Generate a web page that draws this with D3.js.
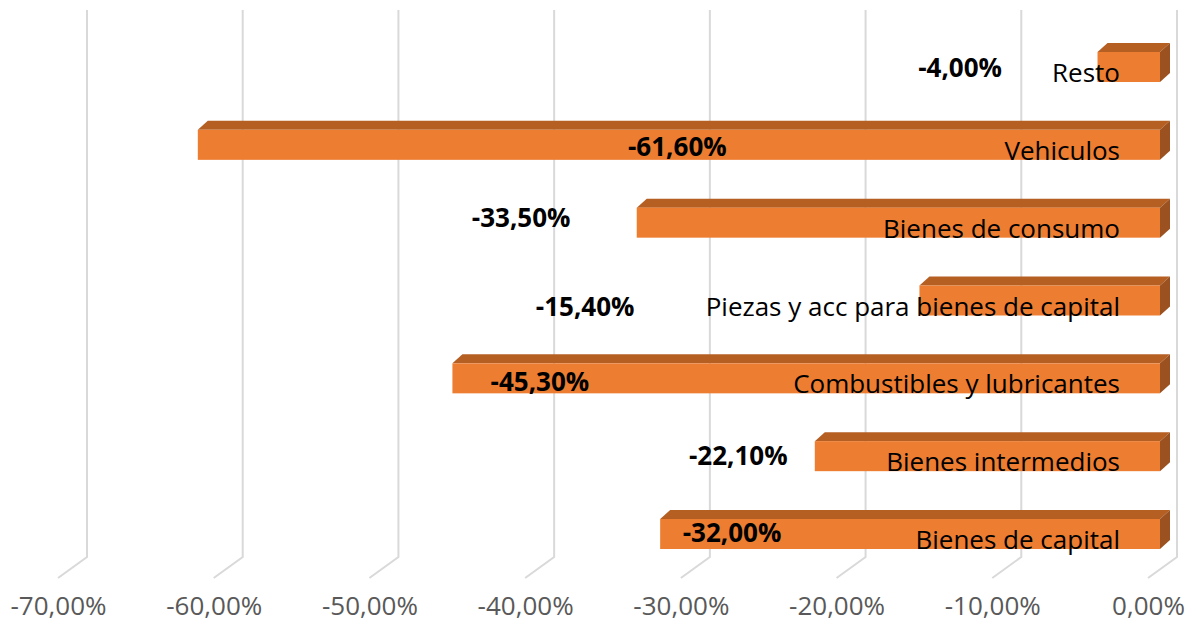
<!DOCTYPE html>
<html>
<head>
<meta charset="utf-8">
<script src="https://cdn.jsdelivr.net/npm/d3@7"></script>
<style>
  body { margin: 0; background: #fff; }
  text { font-family: "Open Sans", sans-serif; }
</style>
</head>
<body>
<div id="viz"></div>
<script>
(function() {

// categories top to bottom, as shown
var categories = ["Resto", "Vehiculos", "Bienes de consumo", "Piezas y acc para bienes de capital",
                  "Combustibles y lubricantes", "Bienes intermedios", "Bienes de capital"];
var values = [-4.0, -61.6, -33.5, -15.4, -45.3, -22.1, -32.0];
var ticks = [-70, -60, -50, -40, -30, -20, -10, 0];

// where the value labels were dragged to (in axis units) and their vertical nudge
var labelAt = [-12.8, -30.9, -40.9, -36.8, -39.7, -27.0, -27.4];
var labelDy = [1, 2, -5, 6, 4, 0, -1];

var width = 1197, height = 632;
var depthX = 10, depthY = -9;     // bar depth
var floorX = -29, floorY = 21;    // floor slant of the grid lines

var svg = d3.select("#viz")
    .append("svg")
    .attr("width", width)
    .attr("height", height);

var fmt = d3.formatLocale({decimal: ",", thousands: ".", grouping: [3], currency: ["", ""], minus: "-"}).format(".2f");
var pct = function(d) { return fmt(d) + "%"; };

// back wall, bar front plane, floor front edge
var xBack = d3.scaleLinear().domain([-70, 0]).range([87, 1177]);
var xBar = d3.scaleLinear().domain([-70, 0]).range([1160 - 70 * 15.62, 1160]);
var xFloor = d3.scaleLinear().domain([-70, 0]).range([87 + floorX, 1177 + floorX]);

var y = d3.scaleBand()
    .domain(categories)
    .range([52, 549])
    .paddingInner(0.6145)
    .paddingOuter(0);

// grid lines
svg.append("g")
    .selectAll("path")
    .data(ticks)
    .enter().append("path")
    .attr("d", function(d) {
        var xb = xBack(d);
        return "M" + xb + ",10V557l" + floorX + "," + floorY;
    })
    .style("fill", "none")
    .style("stroke", "#d9d9d9")
    .style("stroke-width", 2);

// axis labels
var axis = svg.append("g")
    .attr("transform", "translate(0,597)")
    .call(d3.axisBottom(xFloor).tickValues(ticks).tickFormat(pct).tickSize(0).tickPadding(0));
axis.select(".domain").remove();
axis.selectAll("text")
    .attr("dy", "0.71em")
    .style("font-family", "'Open Sans', sans-serif")
    .style("font-size", "26px")
    .style("fill", "#595959");

var rows = categories.map(function(c, i) { return {cat: c, val: values[i], at: labelAt[i], dy: labelDy[i]}; });
var bw = y.bandwidth();

var bars = svg.append("g")
    .selectAll("g")
    .data(rows)
    .enter().append("g");

// top face
bars.append("path")
    .attr("d", function(d) {
        var x0 = xBar(d.val), x1 = xBar(0), t = y(d.cat);
        return "M" + x0 + "," + t + "L" + (x0 + depthX) + "," + (t + depthY) +
               "L" + (x1 + depthX) + "," + (t + depthY) + "L" + x1 + "," + t + "Z";
    })
    .style("fill", "#b55f23");

// side face
bars.append("path")
    .attr("d", function(d) {
        var x1 = xBar(0), t = y(d.cat);
        return "M" + x1 + "," + t + "L" + (x1 + depthX) + "," + (t + depthY) +
               "L" + (x1 + depthX) + "," + (t + depthY + bw) + "L" + x1 + "," + (t + bw) + "Z";
    })
    .style("fill", "#9b5220");

// front face
bars.append("rect")
    .attr("x", function(d) { return xBar(d.val); })
    .attr("y", function(d) { return y(d.cat); })
    .attr("width", function(d) { return xBar(0) - xBar(d.val); })
    .attr("height", bw)
    .style("fill", "#ed7d31");

// category names, sitting on the bottom edge of each bar
svg.append("g")
    .selectAll("text")
    .data(rows)
    .enter().append("text")
    .attr("x", xBar(-2.56))
    .attr("y", function(d) { return y(d.cat) + bw; })
    .attr("text-anchor", "end")
    .style("font-size", "26px")
    .style("fill", "#000")
    .text(function(d) { return d.cat; });

// value labels
svg.append("g")
    .selectAll("text")
    .data(rows)
    .enter().append("text")
    .attr("x", function(d) { return xBar(d.at); })
    .attr("y", function(d) { return y(d.cat) + bw / 2 + d.dy; })
    .attr("dy", "0.35em")
    .attr("text-anchor", "middle")
    .style("font-size", "26px")
    .style("font-weight", "bold")
    .style("fill", "#000")
    .text(function(d) { return pct(d.val); });

})();
</script>
</body>
</html>
